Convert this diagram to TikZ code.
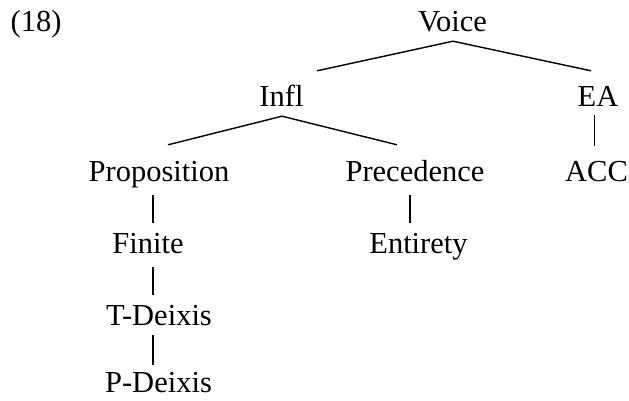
\documentclass[tikz,border=0pt]{standalone}
\usepackage{fontspec}
\setmainfont{Liberation Serif}
\begin{document}
\begin{tikzpicture}[x=1pt,y=1pt,
  lbl/.style={inner sep=0pt, anchor=base, text height=21pt, text depth=7pt, font=\fontsize{30.5}{36}\selectfont},
  edge/.style={line width=1.4pt, line cap=butt}]
\useasboundingbox (0,0) rectangle (629,-400);
\node[lbl] (n18)   at (36,-31)    {(18)};
\node[lbl] (voice) at (452.5,-31) {Voice};
\node[lbl] (infl)  at (281.5,-106){Infl};
\node[lbl] (ea)    at (598,-106)  {EA};
\node[lbl] (prop)  at (159,-181)  {Proposition};
\node[lbl] (prec)  at (415,-181)  {Precedence};
\node[lbl] (acc)   at (596.5,-181){ACC};
\node[lbl] (fin)   at (148,-253)  {Finite};
\node[lbl] (ent)   at (418.5,-253){Entirety};
\node[lbl] (tdx)   at (159,-325)  {T-Deixis};
\node[lbl, text depth=1pt] (pdx) at (158.5,-392){P-Deixis};
\draw[edge] ([xshift=35.5pt,yshift=14pt]infl.north) -- ([xshift=0.5pt,yshift=-3pt]voice.south) -- ([xshift=-7pt,yshift=14pt]ea.north);
\draw[edge] ([xshift=9pt,yshift=15pt]prop.north) -- ([xshift=0.5pt,yshift=-3pt]infl.south) -- ([xshift=-18pt,yshift=15pt]prec.north);
\draw[edge] ([xshift=-3.5pt,yshift=-2pt]ea.south) -- ([xshift=-2pt,yshift=14pt]acc.north);
\draw[edge] ([xshift=-6pt,yshift=-7pt]prop.south) -- ([xshift=5pt,yshift=9pt]fin.north);
\draw[edge] ([xshift=-5pt,yshift=-7pt]prec.south) -- ([xshift=-8.5pt,yshift=9pt]ent.north);
\draw[edge] ([xshift=5pt,yshift=-7pt]fin.south) -- ([xshift=-6pt,yshift=9pt]tdx.north);
\draw[edge] ([xshift=-6pt,yshift=-3pt]tdx.south) -- ([xshift=-5.5pt,yshift=6pt]pdx.north);
\end{tikzpicture}
\end{document}
